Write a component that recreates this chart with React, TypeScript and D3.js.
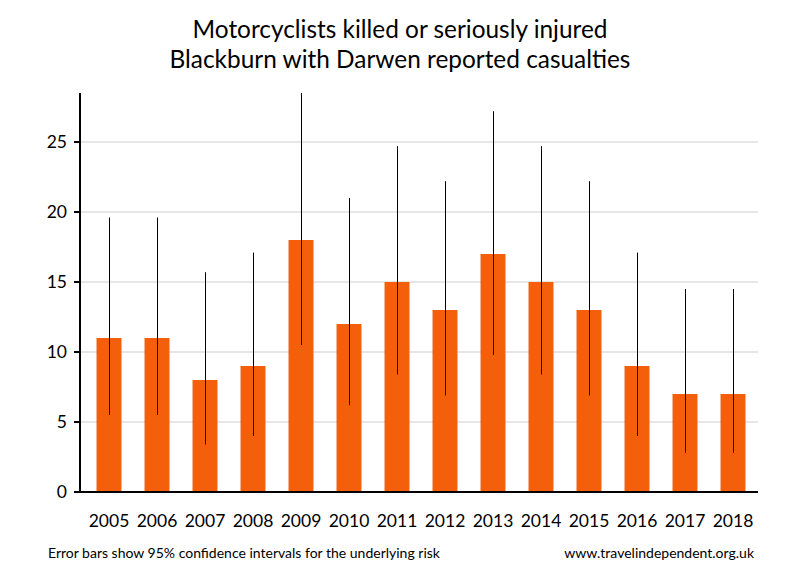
import React from "react";
import * as d3 from "d3";

const years = ["2005","2006","2007","2008","2009","2010","2011","2012","2013","2014","2015","2016","2017","2018"];
const casualties = [11, 11, 8, 9, 18, 12, 15, 13, 17, 15, 13, 9, 7, 7];
const ciLow = [5.5, 5.5, 3.4, 4.0, 10.5, 6.2, 8.4, 6.9, 9.8, 8.4, 6.9, 4.0, 2.8, 2.8];
const ciHigh = [19.6, 19.6, 15.7, 17.1, 28.5, 21.0, 24.7, 22.2, 27.2, 24.7, 22.2, 17.1, 14.5, 14.5];
const yTicks = [0, 5, 10, 15, 20, 25];
const titleLines = ["Motorcyclists killed or seriously injured", "Blackburn with Darwen reported casualties"];
const footLeft = "Error bars show 95% confidence intervals for the underlying risk";
const footRight = "www.travelindependent.org.uk";

const FONT = "Lato, 'Open Sans', sans-serif";

export default function App() {
  const W = 800, H = 580;
  const axisX = 80, plotRight = 758;
  const x = d3.scaleBand<string>().domain(years).range([85, 757]).paddingInner(0.48).paddingOuter(0.24);
  const y = d3.scaleLinear().domain([0, 25]).range([492, 142]);
  const yTop = y(28.5);

  return (
    <svg width={W} height={H} style={{ position: "absolute", left: 0, top: 0, background: "#fff" }}>
      <rect x={0} y={0} width={W} height={H} fill="#fff" />
      {titleLines.map((t, i) => (
        <text key={i} x={400} y={38 + i * 30} textAnchor="middle" fontFamily={FONT} fontSize={24.4} fill="#000">{t}</text>
      ))}
      {yTicks.filter(t => t > 0).map(t => (
        <line key={t} x1={axisX} x2={plotRight} y1={y(t)} y2={y(t)} stroke="#e6e6e6" strokeWidth={2} />
      ))}
      {casualties.map((v, i) => (
        <rect key={years[i]} x={x(years[i])} y={y(v)} width={x.bandwidth()} height={y(0) - y(v)} fill="#f45f0c" />
      ))}
      {casualties.map((v, i) => {
        const cx = Math.round((x(years[i]) as number) + x.bandwidth() / 2) + 0.5;
        return <line key={"e" + i} x1={cx} x2={cx} y1={y(ciLow[i])} y2={y(ciHigh[i])} stroke="#000" strokeWidth={1} />;
      })}
      <line x1={axisX} x2={axisX} y1={yTop} y2={y(0) + 1} stroke="#000" strokeWidth={2} />
      <line x1={axisX - 1} x2={plotRight} y1={y(0)} y2={y(0)} stroke="#000" strokeWidth={2} />
      {yTicks.map(t => (
        <g key={"t" + t}>
          <line x1={axisX - 6} x2={axisX} y1={y(t)} y2={y(t)} stroke="#000" strokeWidth={2} />
          <text x={67} y={y(t)} dy="0.35em" textAnchor="end" fontFamily={FONT} fontSize={17.5} fill="#000">{t}</text>
        </g>
      ))}
      {years.map(yr => (
        <text key={"x" + yr} x={(x(yr) as number) + x.bandwidth() / 2} y={527} textAnchor="middle" fontFamily={FONT} fontSize={17.5} fill="#000">{yr}</text>
      ))}
      <text x={48} y={558} fontFamily={FONT} fontSize={14} fill="#000">{footLeft}</text>
      <text x={754} y={558} textAnchor="end" fontFamily={FONT} fontSize={14} fill="#000">{footRight}</text>
    </svg>
  );
}
